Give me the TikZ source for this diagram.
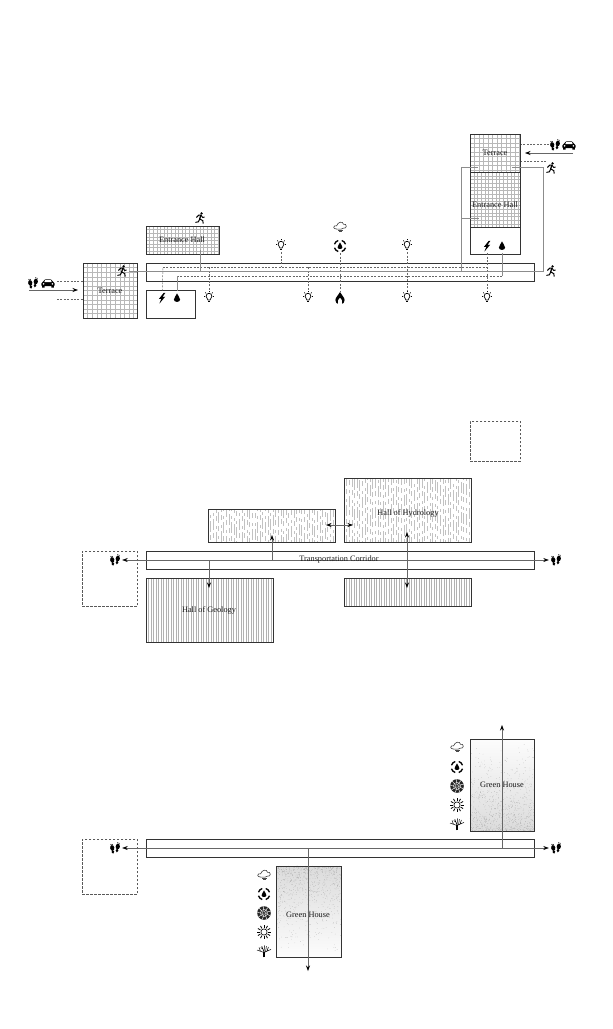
\documentclass[tikz,border=0pt]{standalone}
\usepackage{fontspec}
\setmainfont{Liberation Serif}
\usepackage{tikz}
\usetikzlibrary{arrows.meta, calc}
\definecolor{inkline}{gray}{0.2}
\definecolor{flowgray}{gray}{0.55}
\tikzset{
  room/.style={draw=inkline, line width=1.05pt, inner sep=0pt, anchor=north west},
  ghostroom/.style={draw=black!65, dash pattern=on 2.4pt off 1.6pt, line width=0.5pt, inner sep=0pt, anchor=north west},
  roomlabel/.style={inner sep=0pt, text=black!90, font=\fontsize{8.3}{9}\selectfont},
  iconspot/.style={inner sep=0pt, minimum size=14pt},
  dashline/.style={draw=black!60, dash pattern=on 2pt off 1.4pt, line width=0.45pt},
  pipeline/.style={draw=flowgray, line width=0.6pt},
  flowline/.style={draw=black!60, line width=0.55pt},
  flowto/.style={flowline, -{Stealth[length=5.5pt,width=4pt,black]}},
  flowboth/.style={flowline, {Stealth[length=5.5pt,width=4pt,black]}-{Stealth[length=5.5pt,width=4pt,black]}},
  pics/droplet/.style={code={
    \fill (0,-4.6) .. controls (0.9,-2) and (3.1,-0.6) .. (3.1,1.7) .. controls (3.1,4.6) and (-3.1,4.6) .. (-3.1,1.7) .. controls (-3.1,-0.6) and (-0.9,-2) .. (0,-4.6) -- cycle;
  }},
  pics/bolt/.style={code={
    \fill (1.8,-5.2) -- (-3.2,1) -- (-0.7,0.8) -- (-2.6,5.6) -- (3.2,-1.3) -- (0.5,-1) -- (3.4,-5.2) -- cycle;
  }},
  pics/bulb/.style={code={
    \draw[line width=0.7pt] (-1.1,3) -- (-2.9,-0.8) arc[start angle=180, end angle=360, radius=2.9] -- (1.1,3) -- cycle;
    \draw[line width=1.1pt] (-1,4.2) -- (1,4.2);
    \foreach \ang in {180,225,270,315,360}
      \draw[line width=0.6pt] ($(0,-0.8)+(\ang:3.9)$) -- ($(0,-0.8)+(\ang:5.3)$);
  }},
  pics/footprints/.style={code={
    \foreach \fx/\fy/\rot in {-2.6/0.9/10,2.6/-0.5/-10} {
      \begin{scope}[shift={(\fx,\fy)}, rotate=\rot]
        \fill (0,-1) ellipse[x radius=2.1, y radius=2.9];
        \fill (0,3) ellipse[x radius=1.4, y radius=1.9];
        \fill (-0.6,-4.6) circle[radius=0.65];
        \fill (0.9,-4.4) circle[radius=0.45];
      \end{scope}
    }
  }},
  pics/car/.style={code={
    \fill[rounded corners=1pt] (-6.6,3.2) -- (-6.6,-0.4) -- (-4.8,-1.1) -- (-3.6,-3.6) -- (3.6,-3.6) -- (4.8,-1.1) -- (6.6,-0.4) -- (6.6,3.2) -- cycle;
    \fill[white] (-2.9,-2.8) -- (-3.7,-1) -- (3.7,-1) -- (2.9,-2.8) -- cycle;
    \fill[white] (-4.4,0.9) circle[radius=0.9] (4.4,0.9) circle[radius=0.9];
    \fill (-5.8,3) rectangle (-3.4,4.6) (3.4,3) rectangle (5.8,4.6);
  }},
  pics/runner/.style={code={
    \fill (1.6,-4.6) circle[radius=1.3];
    \draw[line width=1pt, line join=round] (-3.6,-0.6) -- (-1.2,-3) -- (1,-2.8) -- (2.6,-0.6) -- (4.6,-0.9);
    \draw[line width=1.3pt] (0.8,-3) -- (-0.3,1);
    \draw[line width=1pt, line join=round] (-0.3,1) -- (2.8,2.6) -- (3.2,5.6);
    \draw[line width=1pt, line join=round] (-0.3,1) -- (-1.6,3.8) -- (-4.6,4.4);
  }},
  pics/cloud/.style={code={
    \draw[line width=0.55pt, draw=black!80] (-3.6,2) .. controls (-7.4,2.2) and (-7,-2) .. (-3.4,-1.2) .. controls (-2.4,-5) and (3,-6.4) .. (3.4,-2.8) .. controls (7,-3.8) and (7.4,2) .. (3.4,1.2) -- (1,2.2) -- cycle;
    \draw[line width=0.5pt, draw=black!70] (-2,3.4) -- (2.6,3.4) (-1.2,4.7) -- (2,4.7);
  }},
  pics/watercycle/.style={code={
    \foreach \ang in {0,90,180,270}
      \draw[line width=1.3pt] ({\ang+18}:5.8) arc[start angle=\ang+18, end angle=\ang+72, radius=5.8];
    \pic[scale=0.78] {droplet};
  }},
  pics/flame/.style={code={
    \fill (0,-6) .. controls (1,-3) and (4.6,-1) .. (4.6,2) .. controls (4.6,4.5) and (3,5.8) .. (2.3,5.8) .. controls (3,3) and (1.5,1) .. (0,-0.6) .. controls (-1.5,1) and (-3,3) .. (-2.3,5.8) .. controls (-3,5.8) and (-4.6,4.5) .. (-4.6,2) .. controls (-4.6,-1) and (-1,-3) .. (0,-6) -- cycle;
  }},
  pics/fan/.style={code={
    \fill[black!85] (0,0) circle[radius=6.8];
    \foreach \ang in {0,40,...,320}
      \draw[white, line width=0.45pt] (\ang:1) -- (\ang+25:6.6);
    \draw[white, line width=0.3pt] (0,0) circle[radius=3.6];
  }},
  pics/sun/.style={code={
    \draw[line width=0.6pt] (0,0) circle[radius=3.1];
    \foreach \ang in {0,30,...,330}
      \draw[line width=0.8pt] (\ang:4.1) -- (\ang:7);
  }},
  pics/tree/.style={code={
    \draw[line width=1.1pt] (0,6.4) -- (0,1);
    \draw[line width=0.5pt] (0,1.5) -- (-7,-1) (-3.5,0.2) -- (-5,-3.6) (0,1) -- (-2.2,-4.8) (0,1) -- (0.6,-5.6) (0,1.5) -- (7,-1.6) (3,0.2) -- (4.4,-4) (-1.2,-2) -- (-3.2,-3.4) (1.6,0.4) -- (2.4,-4.8);
  }}
}
\newcommand{\gridfill}[5]{
  \pgfmathsetmacro{\nx}{#1+#5}
  \pgfmathsetmacro{\ny}{#2+#5}
  \foreach \gx in {#1,\nx,...,#3} \draw[black!28, line width=0.3pt] (\gx,#2) -- (\gx,#4);
  \foreach \gy in {#2,\ny,...,#4} \draw[black!28, line width=0.3pt] (#1,\gy) -- (#3,\gy);
}
\newcommand{\hatchfill}[4]{
  \pgfmathsetmacro{\nx}{#1+2.5}
  \foreach \gx in {#1,\nx,...,#3} \draw[black!30, line width=0.4pt] (\gx,#2) -- (\gx,#4);
}
\newcommand{\rainfill}[4]{
  \pgfmathsetmacro{\nx}{#1+2.6}
  \foreach \gx in {#1,\nx,...,#3} {
    \pgfmathsetmacro{\ph}{random(0,30)}
    \draw[black!24, line width=0.5pt, dash pattern=on 11pt off 3pt on 5pt off 5pt on 3pt off 3pt, dash phase=\ph pt] (\gx,#2) -- (\gx,#4);
  }
}
\newcommand{\stipplefill}[6]{
  \shade[top color=#5, bottom color=#6] (#1,#3) rectangle (#2,#4);
  \foreach \n in {1,...,800} {
    \pgfmathsetmacro{\dx}{#1+(#2-#1)*rnd}
    \pgfmathsetmacro{\dy}{#3+(#4-#3)*rnd*rnd}
    \fill[black!50] (\dx,\dy) circle[radius=0.2pt];
  }
}
\begin{document}
\begin{tikzpicture}[x=1pt, y=-1pt]
  \useasboundingbox (0,0) rectangle (613,1029);
  \pgfmathsetseed{41}

  \gridfill{83}{263}{137}{318}{4.6}
  \gridfill{146}{226}{219}{254}{3.6}
  \gridfill{470}{134}{520}{172}{4.5}
  \gridfill{470}{172}{520}{227}{3.7}
  \node[room, minimum width=54pt, minimum height=55pt] (terraceA) at (83,263) {};
  \node[room, minimum width=73pt, minimum height=28pt] (entranceA) at (146,226) {};
  \node[room, minimum width=49pt, minimum height=28pt] (plantA) at (146,290) {};
  \node[room, minimum width=50pt, minimum height=38pt] (terraceB) at (470,134) {};
  \node[room, minimum width=50pt, minimum height=55pt] (entranceB) at (470,172) {};
  \node[room, minimum width=50pt, minimum height=27pt] (plantB) at (470,227) {};
  \node[room, minimum width=388pt, minimum height=18pt] (corridorA) at (146,263) {};
  \node[roomlabel] (terraceAtxt) at (110,291) {Terrace};
  \node[roomlabel] (entranceAtxt) at (182,240) {Entrance Hall};
  \node[roomlabel] (terraceBtxt) at (495,153) {Terrace};
  \node[roomlabel] (entranceBtxt) at (495,205) {Entrance Hall};

  \foreach \nm/\xx/\yy/\ic in {
    feetA/33/283/footprints, carA/48/283/car, runnerA/122/271/runner, runnerB/200/218/runner,
    boltA/162/298/bolt, dropA/177/298/droplet, bulbA/209/297/bulb, bulbB/281/245/bulb,
    bulbC/308/297/bulb, cloudA/340/227/cloud, cycleA/340/246/watercycle, flameA/340/298/flame,
    bulbD/407/245/bulb, bulbE/407/297/bulb, boltB/487/246/bolt, dropB/502/246/droplet,
    bulbF/487/297/bulb, runnerC/551/271/runner, runnerD/551/168/runner, feetB/555/145/footprints,
    carB/569/145/car} {
    \node[iconspot] (\nm) at (\xx,\yy) {};
    \pic at (\nm) {\ic};
  }

  \coordinate (pipeAl) at (163,267);
  \coordinate (pipeAr) at (487,267);
  \coordinate (pipeBl) at (177,276);
  \coordinate (pipeBr) at (502,276);
  \coordinate (riserL) at (461,272);
  \coordinate (riserR) at (543,272);
  \coordinate (riserLt) at (478,167);
  \coordinate (riserRt) at (512,167);
  \coordinate (stubL) at (461,218);
  \coordinate (stubR) at (479,218);
  \coordinate (hallDrop) at (200,250);
  \coordinate (driveA) at (29,290);
  \coordinate (driveAe) at (78,290);
  \coordinate (driveB) at (573,153);
  \coordinate (driveBe) at (525,153);
  \coordinate (walkA) at (57,281);
  \coordinate (walkB) at (57,299);
  \coordinate (walkC) at (546,161);
  \coordinate (walkD) at (549,144);

  \draw[dashline] (pipeAl) -- (pipeAr);
  \draw[dashline] (pipeBl) -- (pipeBr);
  \draw[dashline] (boltA) -- (pipeAl);
  \draw[pipeline] (dropA) -- (pipeBl);
  \draw[pipeline] (dropB) -- (pipeBr);
  \draw[dashline] (bulbA) -- (bulbA |- pipeAl);
  \draw[dashline] (bulbB) -- (bulbB |- pipeAl);
  \draw[dashline] (bulbC) -- (bulbC |- pipeAl);
  \draw[dashline] (bulbD) -- (bulbE);
  \draw[dashline] (boltB) -- (bulbF);
  \draw[dashline] (cycleA) -- (flameA);
  \draw[pipeline] (runnerA) -- (runnerC);
  \draw[pipeline] (hallDrop) -- (hallDrop |- riserL);
  \draw[pipeline] (riserR) -- (riserR |- riserRt) -- (riserRt);
  \draw[pipeline] (riserL) -- (riserL |- riserLt) -- (riserLt);
  \draw[pipeline] (stubL) -- (stubR);
  \draw[dashline] (walkA) -- (walkA -| terraceA.west);
  \draw[dashline] (walkB) -- (walkB -| terraceA.west);
  \draw[flowto] (driveA) -- (driveAe);
  \draw[flowto] (driveB) -- (driveBe);
  \draw[dashline] (walkD) -- (walkD -| terraceB.east);
  \draw[dashline] (walkC) -- (walkC -| terraceB.east);

  \node[ghostroom, minimum width=50pt, minimum height=40pt] (voidA) at (470,421) {};
  \node[ghostroom, minimum width=55pt, minimum height=55pt] (voidB) at (82,551) {};
  \rainfill{344}{478}{471}{542}
  \rainfill{208}{509}{335}{542}
  \hatchfill{344}{578}{471}{606}
  \hatchfill{146}{578}{273}{642}
  \node[room, minimum width=127pt, minimum height=64pt] (hallHydro) at (344,478) {};
  \node[room, minimum width=127pt, minimum height=33pt] (hallHydroB) at (208,509) {};
  \node[room, minimum width=127pt, minimum height=28pt] (hallGeoB) at (344,578) {};
  \node[room, minimum width=127pt, minimum height=64pt] (hallGeo) at (146,578) {};
  \node[room, minimum width=388pt, minimum height=18pt] (corridorB) at (146,551) {};
  \node[roomlabel] (hallHydrotxt) at (408,513) {Hall of Hydrology};
  \node[roomlabel] (hallGeotxt) at (209,610) {Hall of Geology};
  \node[iconspot] (feetC) at (115,560) {};
  \node[iconspot] (feetD) at (556,560) {};
  \pic at (feetC) {footprints};
  \pic at (feetD) {footprints};
  \coordinate (linkA) at (326,525);
  \coordinate (linkB) at (353,525);
  \coordinate (branchA) at (272,535);
  \coordinate (branchB) at (209,588);
  \coordinate (linkC) at (407,532);
  \coordinate (linkD) at (407,588);
  \draw[flowboth] (feetC) -- (feetD);
  \node[roomlabel] (corridortxt) at (339,559.6) {Transportation Corridor};
  \draw[flowto] (branchA |- feetC) -- (branchA);
  \draw[flowto] (branchB |- feetC) -- (branchB);
  \draw[flowboth] (linkC) -- (linkD);
  \draw[flowboth] (linkA) -- (linkB);

  \node[ghostroom, minimum width=55pt, minimum height=55pt] (voidC) at (82,839) {};
  \stipplefill{470}{534}{831}{739}{black!1}{black!14}
  \stipplefill{276}{341}{866}{957}{black!14}{black!1}
  \node[room, minimum width=64pt, minimum height=92pt] (greenA) at (470,739) {};
  \node[room, minimum width=65pt, minimum height=91pt] (greenB) at (276,866) {};
  \node[room, minimum width=388pt, minimum height=18pt] (corridorC) at (146,839) {};
  \node[roomlabel] (greenAtxt) at (502,785) {Green House};
  \node[roomlabel] (greenBtxt) at (308,915) {Green House};
  \foreach \nm/\xx/\yy/\ic in {
    feetE/115/848/footprints, feetF/556/848/footprints,
    cloudB/457/747/cloud, cycleB/457/767/watercycle, fanB/457/786/fan, sunB/457/805/sun, treeB/457/824/tree,
    cloudC/264/875/cloud, cycleC/264/894/watercycle, fanC/264/913/fan, sunC/264/932/sun, treeC/264/951/tree} {
    \node[iconspot] (\nm) at (\xx,\yy) {};
    \pic at (\nm) {\ic};
  }
  \coordinate (riseA) at (502,725);
  \coordinate (riseB) at (308,971);
  \draw[flowboth] (feetE) -- (feetF);
  \draw[flowto] (riseA |- feetE) -- (riseA);
  \draw[flowto] (riseB |- feetE) -- (riseB);
\end{tikzpicture}
\end{document}
